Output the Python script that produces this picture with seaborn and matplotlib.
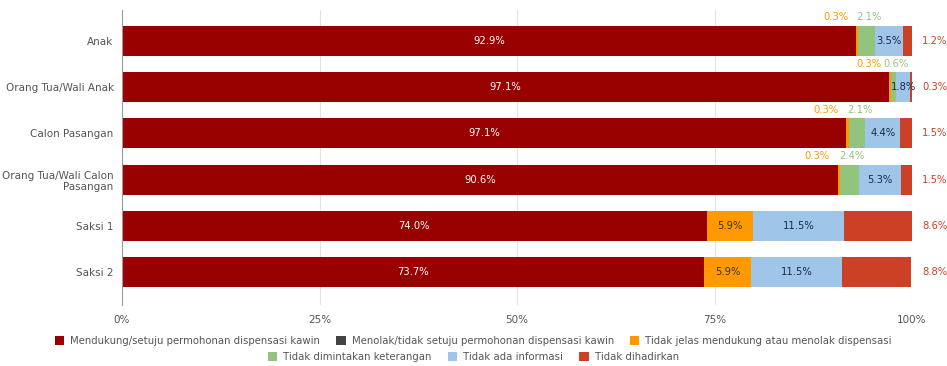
import matplotlib
matplotlib.use("Agg")
import matplotlib.pyplot as plt
from matplotlib.patches import Patch
import pandas as pd
import seaborn as sns

# Data (percent of each group)
categories = ["Anak", "Orang Tua/Wali Anak", "Calon Pasangan",
              "Orang Tua/Wali Calon\nPasangan", "Saksi 1", "Saksi 2"]
mendukung = [92.9, 97.1, 91.7, 90.6, 74.0, 73.7]
mendukung_label = ["92.9%", "97.1%", "97.1%", "90.6%", "74.0%", "73.7%"]
menolak = [0, 0, 0, 0, 0, 0]
tidak_jelas = [0.3, 0.3, 0.3, 0.3, 5.9, 5.9]
tidak_dimintakan = [2.1, 0.6, 2.1, 2.4, 0, 0]
tidak_ada_info = [3.5, 1.8, 4.4, 5.3, 11.5, 11.5]
tidak_dihadirkan = [1.2, 0.3, 1.5, 1.5, 8.6, 8.8]

series_names = [
    "Mendukung/setuju permohonan dispensasi kawin",
    "Menolak/tidak setuju permohonan dispensasi kawin",
    "Tidak jelas mendukung atau menolak dispensasi",
    "Tidak dimintakan keterangan",
    "Tidak ada informasi",
    "Tidak dihadirkan",
]
colors = ["#990000", "#434343", "#ff9900", "#93c47d", "#9fc5e8", "#cc4125"]

df = pd.DataFrame({
    "kategori": categories,
    series_names[0]: mendukung,
    series_names[1]: menolak,
    series_names[2]: tidak_jelas,
    series_names[3]: tidak_dimintakan,
    series_names[4]: tidak_ada_info,
    series_names[5]: tidak_dihadirkan,
})
cum = df[series_names].cumsum(axis=1)
start = cum - df[series_names]

sns.set_style("white")
plt.rcParams["font.family"] = ["DejaVu Sans"]

fig = plt.figure(figsize=(9.47, 3.66), dpi=100)
ax = fig.add_axes([122 / 947, 1 - 305 / 366, 790 / 947, 295 / 366])

# stacked bars: draw cumulative totals from the last series backwards
for name, color in reversed(list(zip(series_names, colors))):
    sns.barplot(x=cum[name], y=df["kategori"], orient="y", color=color,
                saturation=1, width=0.65, linewidth=0, ax=ax)

ax.set_xlim(0, 100)
ax.set_ylim(5.71, -0.67)
ax.set_xticks([0, 25, 50, 75, 100])
ax.set_xticklabels(["0%", "25%", "50%", "75%", "100%"])
ax.set_xlabel("")
ax.set_ylabel("")
ax.grid(axis="x", color="#e3e3e3", linewidth=0.8)
ax.set_axisbelow(True)
for s in ["top", "right", "bottom"]:
    ax.spines[s].set_visible(False)
ax.spines["left"].set_color("#9a9a9a")
ax.spines["left"].set_linewidth(0.8)
ax.tick_params(axis="both", length=0, labelsize=7.5, labelcolor="#555555")
ax.tick_params(axis="y", pad=6)
ax.tick_params(axis="x", pad=7)

fs = 7.2
for i in range(len(categories)):
    # main segment
    ax.text(mendukung[i] / 2, i, mendukung_label[i], ha="center", va="center",
            color="white", fontsize=fs)
    # orange
    v = tidak_jelas[i]
    if v >= 3:
        ax.text(start.iloc[i, 2] + v / 2, i, f"{v:.1f}%", ha="center",
                va="center", color="#333333", fontsize=fs)
    elif v > 0:
        ax.text(start.iloc[i, 2] - 1.0, i - 0.4, f"{v:.1f}%", ha="right",
                va="bottom", color="#ff9900", fontsize=fs)
    # green
    v = tidak_dimintakan[i]
    if v > 0:
        ax.text(start.iloc[i, 3] + v / 2 + 0.3, i - 0.4, f"{v:.1f}%",
                ha="center", va="bottom", color="#93c47d", fontsize=fs)
    # blue
    v = tidak_ada_info[i]
    ax.text(start.iloc[i, 4] + v / 2, i, f"{v:.1f}%", ha="center",
            va="center", color="#1c2b4a", fontsize=fs)
    # red, outside the plot
    v = tidak_dihadirkan[i]
    ax.text(102.9, i, f"{v:.1f}%", ha="center", va="center",
            color="#cc4125", fontsize=fs, clip_on=False)

handles = [Patch(facecolor=c, edgecolor="none") for c in colors]
leg_kw = dict(frameon=False, fontsize=7.3, handlelength=0.9, handleheight=0.9,
              handletextpad=0.6, columnspacing=1.6, labelcolor="#555555",
              loc="center")
fig.legend(handles[:3], series_names[:3], ncol=3,
           bbox_to_anchor=(0.5, 1 - 341 / 366), **leg_kw)
fig.legend(handles[3:], series_names[3:], ncol=3,
           bbox_to_anchor=(0.5, 1 - 357 / 366), **leg_kw)

fig.savefig("out.png", dpi=100)
